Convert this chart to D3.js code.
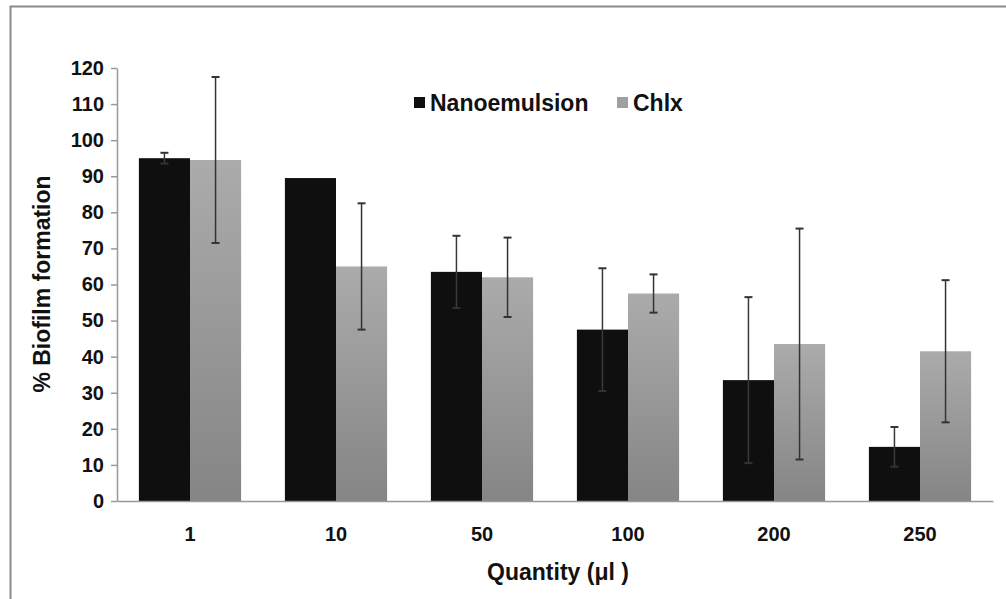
<!DOCTYPE html>
<html><head><meta charset="utf-8">
<script src="https://cdn.jsdelivr.net/npm/d3@7"></script>
<style>body{margin:0;background:#fff}svg{display:block}text{font-family:"Liberation Sans",Arial,sans-serif;font-weight:bold;fill:#111}</style>
</head><body>
<svg id="c" width="1006" height="599"></svg>
<script>
const categories = ["1","10","50","100","200","250"];
const seriesNames = ["Nanoemulsion","Chlx"];
const nanoValues = [95, 89.5, 63.5, 47.5, 33.5, 15];
const nanoErrors = [1.5, 0, 10, 17, 23, 5.5];
const chlxValues = [94.5, 65, 62, 57.5, 43.5, 41.5];
const chlxErrors = [23, 17.5, 11, 5.3, 32, 19.7];
const yTicks = [0,10,20,30,40,50,60,70,80,90,100,110,120];

(function(){
const svg = d3.select("#c");
const defs = svg.append("defs");
const g1 = defs.append("linearGradient").attr("id","gr").attr("x1",0).attr("y1",0).attr("x2",0).attr("y2",1);
g1.append("stop").attr("offset","0%").attr("stop-color","#ababab");
g1.append("stop").attr("offset","100%").attr("stop-color","#858585");

// frame
svg.append("path").attr("d","M10.5,1006 L10.5,6.5 L1006,6.5").attr("fill","none").attr("stroke","#8a8a8a").attr("stroke-width",2);

const pLeft=117, pRight=993, pTop=68, pBottom=501;
const x = d3.scaleBand().domain(categories).range([pLeft,pRight]).paddingInner(0.3).paddingOuter(0.15);
const xs = d3.scaleBand().domain(seriesNames).range([0,x.bandwidth()]);
const y = d3.scaleLinear().domain([0,120]).range([pBottom,pTop]);

const data = categories.map((c,i)=>({c, vals:[
  {s:"Nanoemulsion", v:nanoValues[i], e:nanoErrors[i]},
  {s:"Chlx", v:chlxValues[i], e:chlxErrors[i]}]}));

const grp = svg.append("g").selectAll("g").data(data).join("g").attr("transform",d=>`translate(${x(d.c)},0)`);
grp.selectAll("rect").data(d=>d.vals).join("rect")
  .attr("x",d=>xs(d.s)).attr("width",xs.bandwidth())
  .attr("y",d=>y(d.v)).attr("height",d=>y(0)-y(d.v))
  .attr("fill",d=>d.s==="Chlx"?"url(#gr)":"#0f0f0f");

// error bars
const eb = grp.selectAll("g.eb").data(d=>d.vals.filter(v=>v.e>0)).join("g").attr("class","eb")
  .attr("transform",d=>`translate(${xs(d.s)+xs.bandwidth()/2},0)`);
eb.append("line").attr("y1",d=>y(d.v+d.e)).attr("y2",d=>y(d.v-d.e)).attr("stroke",d=>d.s==="Chlx"?"#333":"#3a3a3a").attr("stroke-width",1.5);
eb.append("line").attr("x1",-4).attr("x2",4).attr("y1",d=>y(d.v+d.e)).attr("y2",d=>y(d.v+d.e)).attr("stroke","#333").attr("stroke-width",2);
eb.append("line").attr("x1",-4).attr("x2",4).attr("y1",d=>y(d.v-d.e)).attr("y2",d=>y(d.v-d.e)).attr("stroke","#333").attr("stroke-width",2);

// axes
const ya = svg.append("g").attr("transform",`translate(${pLeft},0)`)
  .call(d3.axisLeft(y).tickValues(yTicks).tickSize(6).tickSizeOuter(0).tickPadding(7));
ya.select(".domain").attr("stroke","#999").attr("stroke-width",1.5);
ya.selectAll(".tick line").attr("stroke","#999").attr("stroke-width",1.5);
ya.selectAll(".tick text").style("font-size","20px").style("font-family","Liberation Sans, Arial, sans-serif").style("font-weight","bold").attr("fill","#111");

const xa = svg.append("g").attr("transform",`translate(0,${pBottom})`)
  .call(d3.axisBottom(x).tickSize(0).tickSizeOuter(0).tickPadding(26));
xa.select(".domain").attr("stroke","#999").attr("stroke-width",1.5);
xa.selectAll(".tick text").style("font-size","20px").style("font-family","Liberation Sans, Arial, sans-serif").style("font-weight","bold").attr("fill","#111");

// titles
svg.append("text").attr("x",558).attr("y",580).attr("text-anchor","middle").style("font-size","23px").text("Quantity (μl )");
svg.append("text").attr("transform","translate(50,284) rotate(-90)").attr("text-anchor","middle").style("font-size","23px").text("% Biofilm formation");

// legend
const lg = svg.append("g").attr("transform","translate(414,104)");
const legItems = [{s:"Nanoemulsion",x:0,f:"#0f0f0f"},{s:"Chlx",x:203,f:"#a0a0a0"}];
lg.selectAll("rect").data(legItems).join("rect").attr("x",d=>d.x).attr("y",-7).attr("width",11).attr("height",11).attr("fill",d=>d.f);
lg.selectAll("text").data(legItems).join("text").attr("x",d=>d.x+16).attr("y",7).style("font-size","23px").text(d=>d.s);
})();
</script>
</body></html>
